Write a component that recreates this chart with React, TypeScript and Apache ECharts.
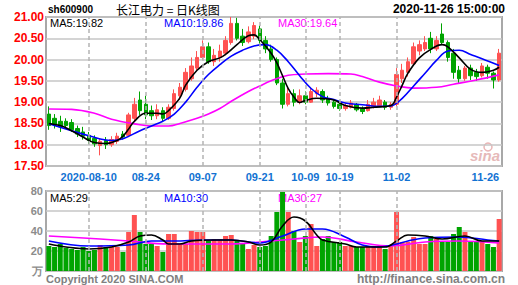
import React, { useEffect, useRef } from 'react';
import * as echarts from 'echarts';

const dates = [
  '2020-07-30', '2020-07-31',
  '2020-08-03', '2020-08-04', '2020-08-05', '2020-08-06', '2020-08-07',
  '2020-08-10', '2020-08-11', '2020-08-12', '2020-08-13', '2020-08-14',
  '2020-08-17', '2020-08-18', '2020-08-19', '2020-08-20', '2020-08-21',
  '2020-08-24', '2020-08-25', '2020-08-26', '2020-08-27', '2020-08-28',
  '2020-08-31', '2020-09-01', '2020-09-02', '2020-09-03', '2020-09-04',
  '2020-09-07', '2020-09-08', '2020-09-09', '2020-09-10', '2020-09-11',
  '2020-09-14', '2020-09-15', '2020-09-16', '2020-09-17', '2020-09-18',
  '2020-09-21', '2020-09-22', '2020-09-23', '2020-09-24', '2020-09-25',
  '2020-09-28', '2020-09-29', '2020-09-30',
  '2020-10-09',
  '2020-10-12', '2020-10-13', '2020-10-14', '2020-10-15', '2020-10-16',
  '2020-10-19', '2020-10-20', '2020-10-21', '2020-10-22', '2020-10-23',
  '2020-10-26', '2020-10-27', '2020-10-28', '2020-10-29', '2020-10-30',
  '2020-11-02', '2020-11-03', '2020-11-04', '2020-11-05', '2020-11-06',
  '2020-11-09', '2020-11-10', '2020-11-11', '2020-11-12', '2020-11-13',
  '2020-11-16', '2020-11-17', '2020-11-18', '2020-11-19', '2020-11-20',
  '2020-11-23', '2020-11-24', '2020-11-25', '2020-11-26',
];

const opens = [
  18.72, 18.62, 18.55, 18.55, 18.52, 18.38, 18.30, 18.22, 18.15, 17.98,
  18.10, 18.00, 18.08, 18.25, 18.22, 18.62, 19.05, 18.95, 18.80, 18.68,
  18.80, 18.62, 18.85, 19.15, 19.30, 19.55, 19.80, 20.05, 20.30, 19.95,
  20.05, 20.15, 20.40, 20.85, 20.55, 20.42, 20.55, 20.72, 20.45, 20.25,
  20.00, 19.45, 18.95, 19.20, 19.00, 19.15, 19.00, 19.20, 19.25, 19.08,
  19.00, 18.95, 18.85, 18.88, 18.95, 18.85, 18.80, 18.90, 18.92, 19.00,
  18.88, 18.95, 19.55, 19.70, 19.90, 20.20, 20.25, 20.50, 20.25, 20.60,
  20.40, 20.15, 19.75, 19.55, 19.80, 19.70, 19.62, 19.82, 19.68, 19.52,
];
const closes = [
  18.45, 18.48, 18.42, 18.45, 18.35, 18.25, 18.20, 18.10, 18.02, 18.08,
  18.00, 18.12, 18.20, 18.18, 18.70, 18.95, 18.80, 18.70, 18.68, 18.82,
  18.62, 18.88, 19.20, 19.35, 19.70, 19.85, 20.05, 20.30, 19.95, 20.10,
  20.20, 20.45, 20.85, 20.50, 20.40, 20.65, 20.80, 20.45, 20.25, 20.00,
  19.45, 18.95, 19.20, 19.00, 19.15, 19.00, 19.25, 19.28, 19.05, 18.98,
  18.90, 18.85, 18.92, 18.98, 18.82, 18.78, 18.95, 19.00, 19.05, 18.88,
  18.95, 19.65, 19.75, 19.95, 20.30, 20.35, 20.40, 20.25, 20.45, 20.40,
  20.05, 19.70, 19.55, 19.80, 19.62, 19.60, 19.85, 19.68, 19.52, 20.15,
];
const lows = [
  18.35, 18.38, 18.30, 18.38, 18.30, 18.18, 18.12, 18.02, 17.95, 17.75,
  17.90, 17.95, 18.02, 18.12, 18.18, 18.55, 18.70, 18.60, 18.58, 18.60,
  18.55, 18.58, 18.80, 19.05, 19.25, 19.50, 19.75, 20.00, 19.90, 19.85,
  19.95, 20.10, 20.35, 20.45, 20.32, 20.38, 20.48, 20.35, 20.15, 19.95,
  19.40, 18.85, 18.90, 18.90, 18.95, 18.95, 18.98, 19.12, 18.98, 18.92,
  18.85, 18.80, 18.80, 18.85, 18.78, 18.72, 18.78, 18.85, 18.88, 18.82,
  18.82, 18.90, 19.45, 19.60, 19.85, 20.10, 20.20, 20.15, 20.20, 20.35,
  19.95, 19.55, 19.45, 19.50, 19.52, 19.50, 19.58, 19.55, 19.32, 19.48,
];
const highs = [
  18.90, 18.72, 18.68, 18.62, 18.60, 18.45, 18.42, 18.30, 18.22, 18.15,
  18.18, 18.20, 18.28, 18.32, 18.75, 19.10, 19.25, 19.15, 18.92, 18.95,
  18.88, 18.95, 19.30, 19.45, 19.80, 20.05, 20.20, 20.45, 20.40, 20.25,
  20.35, 20.55, 21.00, 20.98, 20.72, 20.78, 20.88, 20.80, 20.55, 20.35,
  20.05, 19.55, 19.35, 19.30, 19.30, 19.25, 19.35, 19.35, 19.30, 19.15,
  19.05, 19.00, 18.98, 19.05, 18.98, 18.90, 19.05, 19.10, 19.15, 19.05,
  19.00, 19.80, 19.90, 20.05, 20.40, 20.45, 20.55, 20.65, 20.55, 20.85,
  20.45, 20.25, 19.85, 19.85, 19.88, 19.78, 19.92, 19.88, 19.72, 20.25,
];
const volumes = [
  25, 24, 27, 23, 22, 21, 24, 20, 21, 26,
  24, 24, 24, 19, 39, 56, 39, 27, 27, 25,
  19, 37, 37, 27, 27, 40, 39, 39, 30, 32,
  32, 35, 36, 30, 28, 22, 26, 24, 25, 35,
  59, 79, 59, 40, 29, 35, 47, 25, 32, 35,
  29, 29, 25, 25, 24, 24, 25, 25, 25, 22,
  25, 59, 29, 29, 34, 27, 27, 35, 32, 29,
  29, 37, 44, 39, 29, 29, 30, 27, 24, 52,
];

// moving-average curves: [day index, value]
const priceMA5 = [
  [0, 18.5], [2, 18.45], [4, 18.33], [6, 18.18], [8, 18.05], [10, 18.03], [12, 18.1],
  [13, 18.2], [14, 18.37], [15, 18.55], [17, 18.74], [19, 18.74], [20, 18.72], [21, 18.8],
  [23, 19.1], [24, 19.4], [26, 19.75], [28, 19.95], [30, 20.04], [31, 20.12], [33, 20.35],
  [35, 20.56], [36, 20.58], [37, 20.47], [39, 20.15], [40, 19.92], [41, 19.62], [42, 19.32],
  [43, 19.12], [44, 18.99], [45, 19.04], [47, 19.09], [50, 19.05], [52, 18.92], [55, 18.86],
  [57, 18.88], [60, 18.92], [61, 19.12], [62, 19.4], [63, 19.68], [65, 20.04], [67, 20.24],
  [69, 20.35], [70, 20.3], [72, 20.04], [74, 19.77], [76, 19.7], [78, 19.75], [79, 19.82],
];
const priceMA10 = [
  [0, 18.49], [4, 18.33], [7, 18.21], [11, 18.1], [13, 18.14], [16, 18.33], [18, 18.44],
  [20, 18.55], [22, 18.72], [24, 19.0], [26, 19.35], [28, 19.65], [30, 19.88], [32, 20.08],
  [34, 20.22], [36, 20.32], [38, 20.35], [40, 20.22], [42, 19.95], [44, 19.62], [46, 19.32],
  [48, 19.13], [50, 19.06], [52, 18.98], [55, 18.94], [58, 18.9], [60, 18.91], [62, 19.09],
  [64, 19.38], [66, 19.68], [68, 19.98], [70, 20.2], [72, 20.22], [74, 20.12], [76, 20.02],
  [79, 19.86],
];
const priceMA30 = [
  [0, 18.84], [4, 18.83], [8, 18.74], [11, 18.6], [15, 18.49], [18, 18.44], [21, 18.44],
  [23, 18.5], [26, 18.62], [28, 18.72], [30, 18.85], [32, 19.02], [35, 19.25], [37, 19.38],
  [39, 19.5], [42, 19.63], [45, 19.66], [49, 19.67], [53, 19.66], [55, 19.6], [58, 19.47],
  [61, 19.38], [64, 19.33], [68, 19.35], [71, 19.42], [75, 19.52], [79, 19.64],
];
const volMA5 = [
  [0, 27], [3, 24], [7, 22], [11, 24], [14, 29], [16, 35], [18, 36], [20, 31], [21, 27],
  [23, 27], [25, 30], [29, 31], [32, 31], [35, 29], [37, 26], [39, 29], [41, 45], [43, 54],
  [45, 50], [47, 36], [48, 31], [52, 27], [54, 24], [59, 24], [61, 30], [63, 36], [66, 35],
  [69, 32], [73, 35], [76, 30], [79, 30],
];
const volMA10 = [
  [0, 30], [7, 25], [14, 26], [18, 30], [22, 30], [27, 31], [32, 31], [37, 28], [41, 35],
  [45, 42], [48, 42], [52, 34], [55, 26], [58, 24], [61, 27], [63, 30], [66, 33], [72, 34],
  [77, 31], [79, 30],
];
const volMA30 = [
  [0, 35], [9, 32], [14, 30], [21, 27], [27, 27], [32, 27], [37, 29], [43, 32], [48, 34],
  [54, 29], [60, 25], [66, 29], [72, 30], [79, 28],
];

const tickDates = [
  '2020-08-10', '2020-08-24', '2020-09-07', '2020-09-21',
  '2020-10-09', '2020-10-19', '2020-11-02', '2020-11-26',
];
const gridLineDates = tickDates.slice(0, 7);

const legendMain = ['MA5:19.82', 'MA10:19.86', 'MA30:19.64'];
const legendVol = ['MA5:29', 'MA10:30', 'MA30:27'];

const RED = '#ff5252';
const GREEN = '#00a400';
const MA_COLORS = ['#000000', '#0000ff', '#ff00ff'];
const FONT = '"Liberation Sans", Arial, sans-serif';

export default function App() {
  const ref = useRef<HTMLDivElement>(null);
  useEffect(() => {
    const chart = echarts.init(ref.current as HTMLDivElement, null, { renderer: 'svg' });
    const tickSet = new Set(tickDates);
    const toPts = (arr: number[][]) => arr.map(([i, v]) => [dates[i], v]);
    const maLine = (name: string, arr: number[][], color: string, grid: number) => ({
      name,
      type: 'line',
      xAxisIndex: grid,
      yAxisIndex: grid,
      data: toPts(arr),
      smooth: 0.4,
      symbol: 'none',
      z: 3,
      lineStyle: { color, width: 1.6 },
    });
    const markCarrier = (grid: number) => ({
      type: 'line',
      xAxisIndex: grid,
      yAxisIndex: grid,
      data: [],
      z: 1,
      silent: true,
      markLine: {
        silent: true,
        symbol: ['none', 'none'],
        label: { show: false },
        lineStyle: { color: '#b4b4b4', type: [4, 3], width: 1.5 },
        data: gridLineDates.map((d) => ({ xAxis: d })),
      },
    });

    const option: any = {
      animation: false,
      backgroundColor: '#ffffff',
      grid: [
        { left: 46, width: 456, top: 17, height: 149, show: true, borderColor: '#a8a8a8', borderWidth: 2 },
        { left: 46, width: 456, top: 191, height: 80, show: true, borderColor: '#a8a8a8', borderWidth: 2 },
      ],
      xAxis: [
        {
          type: 'category',
          gridIndex: 0,
          data: dates,
          boundaryGap: true,
          axisLine: { show: false },
          axisTick: { show: false },
          splitLine: { show: false },
          axisLabel: {
            interval: (_i: number, v: string) => tickSet.has(v),
            formatter: (v: string) => (v === tickDates[0] ? v : v.slice(5)),
            color: '#1272d2',
            fontSize: 11,
            fontWeight: 'bold',
            fontFamily: FONT,
            margin: 5,
            alignMaxLabel: 'right',
          },
        },
        {
          type: 'category',
          gridIndex: 1,
          data: dates,
          boundaryGap: true,
          axisLine: { show: false },
          axisTick: { show: false },
          splitLine: { show: false },
          axisLabel: { show: false },
        },
      ],
      yAxis: [
        {
          type: 'value',
          gridIndex: 0,
          min: 17.5,
          max: 21,
          interval: 0.5,
          axisLine: { show: false },
          axisTick: { show: false },
          splitLine: { lineStyle: { color: '#c6c6c6', width: 1.5 } },
          axisLabel: {
            formatter: (v: number) => v.toFixed(2),
            color: '#ff0000',
            fontSize: 12,
            fontWeight: 'bold',
            fontFamily: FONT,
            margin: 2,
          },
        },
        {
          type: 'value',
          gridIndex: 1,
          min: 0,
          max: 80,
          interval: 20,
          axisLine: { show: false },
          axisTick: { show: false },
          splitLine: { lineStyle: { color: '#c6c6c6', width: 1.5 } },
          axisLabel: {
            formatter: (v: number) => (v === 0 ? '万' : String(v)),
            color: '#8c8c8c',
            fontSize: 11,
            fontWeight: 'bold',
            fontFamily: FONT,
            margin: 3,
          },
        },
      ],
      series: [
        markCarrier(0),
        markCarrier(1),
        {
          name: 'K',
          type: 'candlestick',
          xAxisIndex: 0,
          yAxisIndex: 0,
          z: 2,
          barWidth: 4,
          data: dates.map((_, i) => [opens[i], closes[i], lows[i], highs[i]]),
          itemStyle: { color: RED, color0: GREEN, borderColor: RED, borderColor0: GREEN, borderWidth: 1 },
        },
        maLine('MA30', priceMA30, MA_COLORS[2], 0),
        maLine('MA10', priceMA10, MA_COLORS[1], 0),
        maLine('MA5', priceMA5, MA_COLORS[0], 0),
        {
          name: 'VOL',
          type: 'bar',
          xAxisIndex: 1,
          yAxisIndex: 1,
          z: 2,
          barWidth: 5,
          data: volumes.map((v, i) => ({
            value: v,
            itemStyle: { color: closes[i] >= opens[i] ? RED : GREEN },
          })),
        },
        maLine('VMA30', volMA30, MA_COLORS[2], 1),
        maLine('VMA10', volMA10, MA_COLORS[1], 1),
        maLine('VMA5', volMA5, MA_COLORS[0], 1),
      ],
      graphic: [
        { type: 'text', x: 48, y: 9, style: { text: 'sh600900', fill: '#000', font: `bold 10px ${FONT}`, verticalAlign: 'middle' } },
        { type: 'text', x: 116, y: 9, style: { text: '长江电力 = 日K线图', fill: '#000', font: '12px "Noto Sans CJK SC", sans-serif', verticalAlign: 'middle' } },
        { type: 'text', x: 505, y: 9, style: { text: '2020-11-26 15:00:00', fill: '#000', font: `bold 12px ${FONT}`, align: 'right', verticalAlign: 'middle' } },
        { type: 'text', x: 50, y: 23, style: { text: legendMain[0], fill: MA_COLORS[0], font: `11px ${FONT}`, verticalAlign: 'middle' } },
        { type: 'text', x: 164, y: 23, style: { text: legendMain[1], fill: MA_COLORS[1], font: `11px ${FONT}`, verticalAlign: 'middle' } },
        { type: 'text', x: 278, y: 23, style: { text: legendMain[2], fill: MA_COLORS[2], font: `11px ${FONT}`, verticalAlign: 'middle' } },
        { type: 'text', x: 50, y: 198, style: { text: legendVol[0], fill: MA_COLORS[0], font: `11px ${FONT}`, verticalAlign: 'middle' } },
        { type: 'text', x: 164, y: 198, style: { text: legendVol[1], fill: MA_COLORS[1], font: `11px ${FONT}`, verticalAlign: 'middle' } },
        { type: 'text', x: 278, y: 198, style: { text: legendVol[2], fill: MA_COLORS[2], font: `11px ${FONT}`, verticalAlign: 'middle' } },
        { type: 'text', x: 46, y: 279, style: { text: 'Copyright 2020 SINA.COM', fill: '#808080', font: `bold 11px ${FONT}`, verticalAlign: 'middle' } },
        { type: 'text', x: 505, y: 279, style: { text: 'http://finance.sina.com.cn', fill: '#808080', font: `bold 12px ${FONT}`, align: 'right', verticalAlign: 'middle' } },
        { type: 'circle', shape: { cx: 488, cy: 147, r: 4 }, style: { fill: 'none', stroke: '#eab6b6', lineWidth: 1.5 } },
        { type: 'text', x: 470, y: 155, style: { text: 'sina', fill: '#e6b9b9', font: `italic bold 15px ${FONT}`, verticalAlign: 'middle' } },
      ],
    };
    chart.setOption(option);
    return () => chart.dispose();
  }, []);
  return <div ref={ref} style={{ position: 'absolute', left: 0, top: 0, width: 518, height: 285 }} />;
}
